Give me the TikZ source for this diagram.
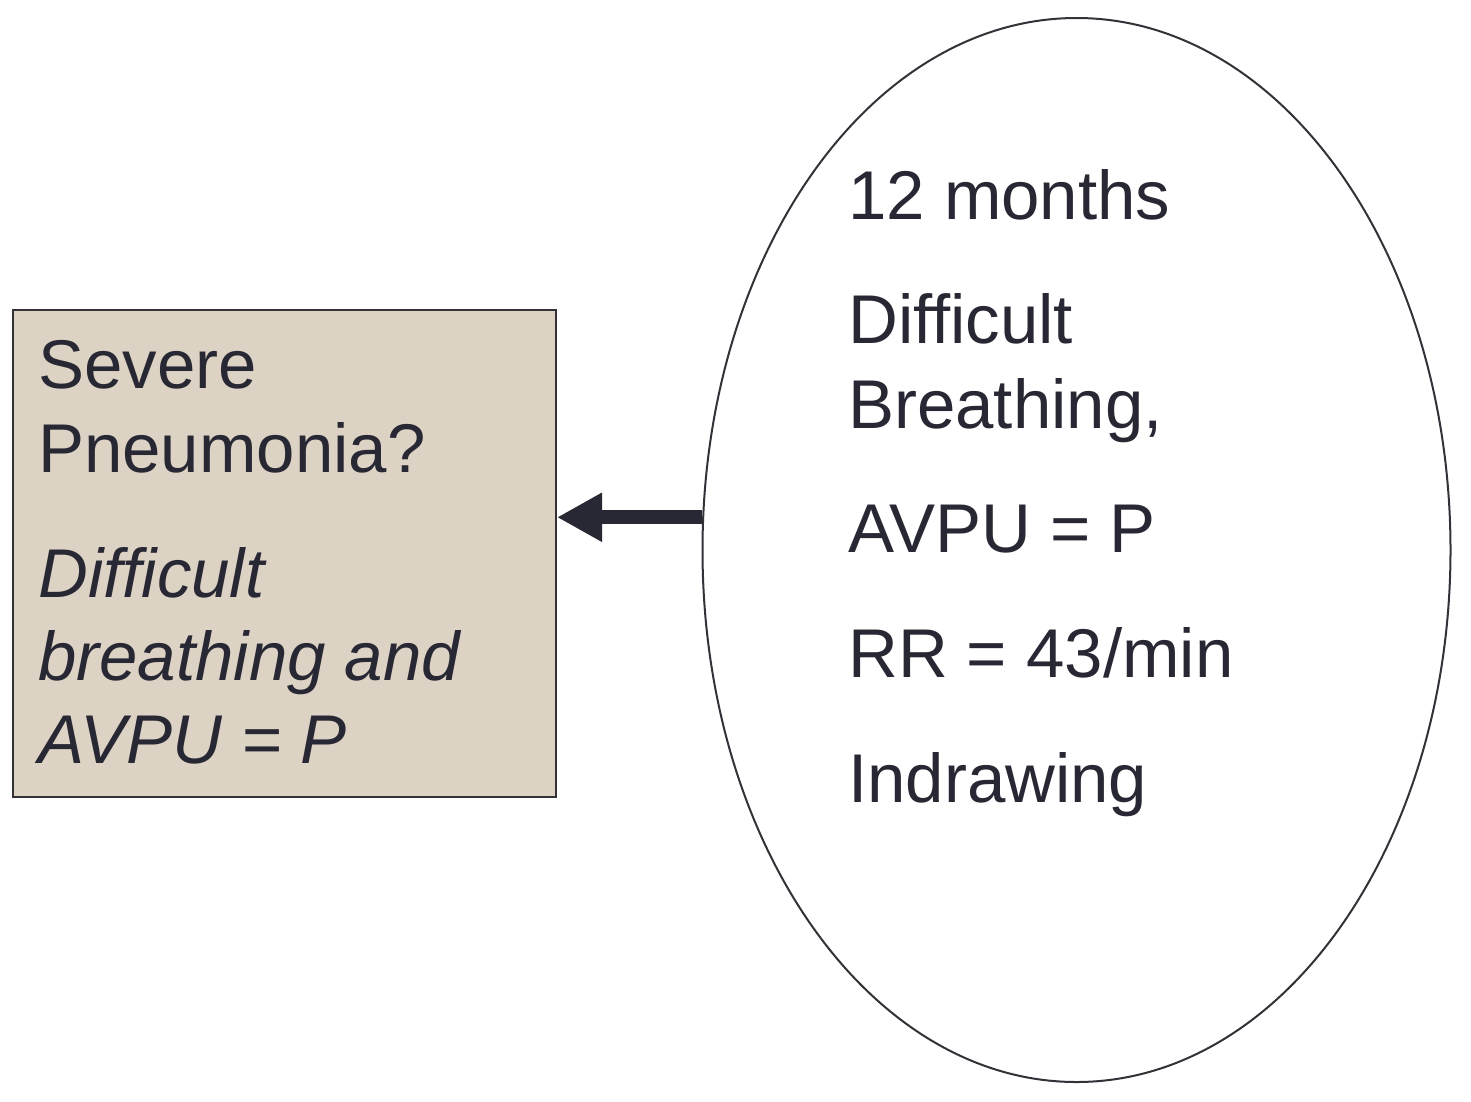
\documentclass[tikz,border=0pt]{standalone}
\usepackage{fontspec}
\setmainfont{Liberation Sans}
\usetikzlibrary{shapes.geometric,arrows.meta}
\definecolor{ink}{RGB}{40,40,52}
\definecolor{beige}{RGB}{221,211,196}
\definecolor{edge}{RGB}{50,50,56}
\begin{document}
\begin{tikzpicture}[x=1pt,y=-1pt,
  txt/.style={anchor=base west,inner sep=0pt,text=ink,font=\fontsize{69}{85}\selectfont},
  itxt/.style={txt,font=\fontsize{69}{85}\selectfont\itshape},
  arr/.style={draw=ink,line width=14pt,-{Triangle[length=45pt,width=46pt]}}]
\useasboundingbox[fill=white] (0,0) rectangle (1471,1101);
\node[draw=edge,line width=2pt,fill=beige,minimum width=543pt,minimum height=487pt,inner sep=0pt] (box) at (284.5,553.5) {};
\node[ellipse,draw=edge,line width=2pt,minimum width=748pt,minimum height=1064pt,inner sep=0pt] (ell) at (1076.5,550) {};
\draw[arr] (ell.175.3) -- (ell.175.3 -| box.east);
\node[txt] (b1) at (38,388) {Severe};
\node[txt] (b2) at (38,472) {Pneumonia?};
\node[itxt] (b3) at (38,597) {Difficult};
\node[itxt] (b4) at (38,680) {breathing and};
\node[itxt] (b5) at (38,763) {AVPU = P};
\node[txt] (e1) at (848,219) {12 months};
\node[txt] (e2) at (848,343) {Difficult};
\node[txt] (e3) at (848,428) {Breathing,};
\node[txt] (e4) at (848,552) {AVPU = P};
\node[txt] (e5) at (848,677) {RR = 43/min};
\node[txt] (e6) at (848,802) {Indrawing};
\end{tikzpicture}
\end{document}
